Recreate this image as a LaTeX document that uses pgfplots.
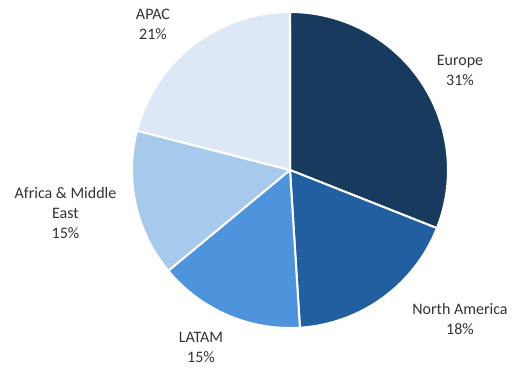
\documentclass[border=0pt]{standalone}
\usepackage{pgfplots}
\usepackage{pgfplotstable}
\pgfplotsset{compat=1.18}
\usepackage{fontspec}
\setmainfont{Carlito}
\definecolor{cEU}{HTML}{183A5E}
\definecolor{cNA}{HTML}{215FA0}
\definecolor{cLA}{HTML}{4E94DC}
\definecolor{cAF}{HTML}{A6C9EC}
\definecolor{cAP}{HTML}{DCE8F6}
\definecolor{txt}{HTML}{333333}
\begin{document}
\begin{tikzpicture}
\begin{axis}[
  width=517pt, height=367pt, scale only axis,
  xmin=0, xmax=517, ymin=0, ymax=367,
  axis lines=none, ticks=none, clip=false,
]
\path (axis cs:0,0) rectangle (axis cs:517,367);
% shares: Europe 31, North America 18, LATAM 15, Africa & ME 15, APAC 21 (3.6 deg per %)
\addplot[fill=cEU, draw=white, line width=2pt, domain=90:-21.6, samples=90, variable=\t]
  ({290+158*cos(\t)},{197+158*sin(\t)}) -- (axis cs:290,197) -- cycle;
\addplot[fill=cNA, draw=white, line width=2pt, domain=-21.6:-86.4, samples=60, variable=\t]
  ({290+158*cos(\t)},{197+158*sin(\t)}) -- (axis cs:290,197) -- cycle;
\addplot[fill=cLA, draw=white, line width=2pt, domain=-86.4:-140.4, samples=60, variable=\t]
  ({290+158*cos(\t)},{197+158*sin(\t)}) -- (axis cs:290,197) -- cycle;
\addplot[fill=cAF, draw=white, line width=2pt, domain=-140.4:-194.4, samples=60, variable=\t]
  ({290+158*cos(\t)},{197+158*sin(\t)}) -- (axis cs:290,197) -- cycle;
\addplot[fill=cAP, draw=white, line width=2pt, domain=-194.4:-270, samples=70, variable=\t]
  ({290+158*cos(\t)},{197+158*sin(\t)}) -- (axis cs:290,197) -- cycle;
\tikzset{lbl/.style={align=center, text=txt, font=\fontsize{16}{20}\selectfont, inner sep=0pt}}
\node[lbl] at (axis cs:460,296.5) {Europe\\31\%};
\node[lbl] at (axis cs:460,48) {North America\\18\%};
\node[lbl] at (axis cs:201,20) {LATAM\\15\%};
\node[lbl] at (axis cs:65.5,154) {Africa \& Middle\\East\\15\%};
\node[lbl] at (axis cs:153,343) {APAC\\21\%};
\end{axis}
\end{tikzpicture}
\end{document}
